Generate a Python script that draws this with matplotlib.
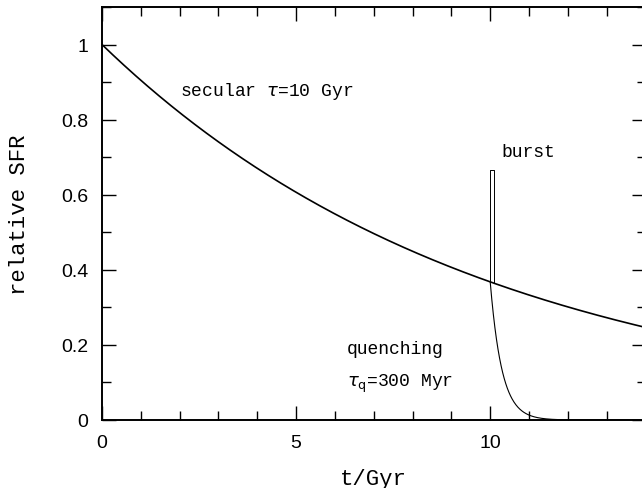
import numpy as np
import matplotlib.pyplot as plt
from matplotlib.ticker import MultipleLocator

# model parameters (Gyr)
tau_secular = 10.0
tau_quench = 0.3
t_event = 10.0
burst_length = 0.1
burst_level = 0.667

t_max = 14.0


def secular(t):
    return np.exp(-t / tau_secular)


t = np.linspace(0, t_max, 600)
sfr_secular = secular(t)

# burst: box on top of the secular track
t_burst = np.array([t_event, t_event, t_event + burst_length, t_event + burst_length])
sfr_burst = np.array([secular(t_event), burst_level, burst_level, secular(t_event + burst_length)])

# quenching: exponential drop after t_event
t_q = np.linspace(t_event, t_max, 400)
sfr_q = secular(t_event) * np.exp(-(t_q - t_event) / tau_quench)

mono = 'Liberation Mono'
tickfont = 'Liberation Sans'

fig = plt.figure(figsize=(6.42, 4.89), dpi=100)
ax = fig.add_axes([102 / 642, 68 / 489, 543.5 / 642, 413 / 489])

ax.plot(t, sfr_secular, color='black', lw=1.2)
ax.plot(t_burst, sfr_burst, color='black', lw=0.7)
ax.plot(t_q, sfr_q, color='black', lw=0.8)

ax.set_xlim(0, t_max)
ax.set_ylim(0, 1.1)

ax.xaxis.set_major_locator(MultipleLocator(5))
ax.xaxis.set_minor_locator(MultipleLocator(1))
ax.yaxis.set_major_locator(MultipleLocator(0.2))
ax.yaxis.set_minor_locator(MultipleLocator(0.1))
ax.set_yticks([0, 0.2, 0.4, 0.6, 0.8, 1.0])
ax.set_yticklabels(['0', '0.2', '0.4', '0.6', '0.8', '1'])

ax.tick_params(which='both', direction='in', top=True, right=True, width=1.0,
               labelsize=14, pad=10)
ax.tick_params(which='major', length=10)
ax.tick_params(which='minor', length=6.5)
for lab in ax.get_xticklabels() + ax.get_yticklabels():
    lab.set_family(tickfont)
for s in ax.spines.values():
    s.set_linewidth(1.4)

ax.set_xlabel('t/Gyr', family=mono, fontsize=16, labelpad=12)
ax.set_ylabel('relative SFR', family=mono, fontsize=16, labelpad=22)

ax.text(2.0, 0.877, r'secular $\tau$=10 Gyr', family=mono, fontsize=13, va='center')
ax.text(10.3, 0.715, 'burst', family=mono, fontsize=13, va='center')
ax.text(6.3, 0.19, 'quenching', family=mono, fontsize=13, va='center')
ax.text(6.3, 0.10, r'$\tau_{\rm q}$=300 Myr', family=mono, fontsize=13, va='center')

fig.savefig('out.png', dpi=100)
